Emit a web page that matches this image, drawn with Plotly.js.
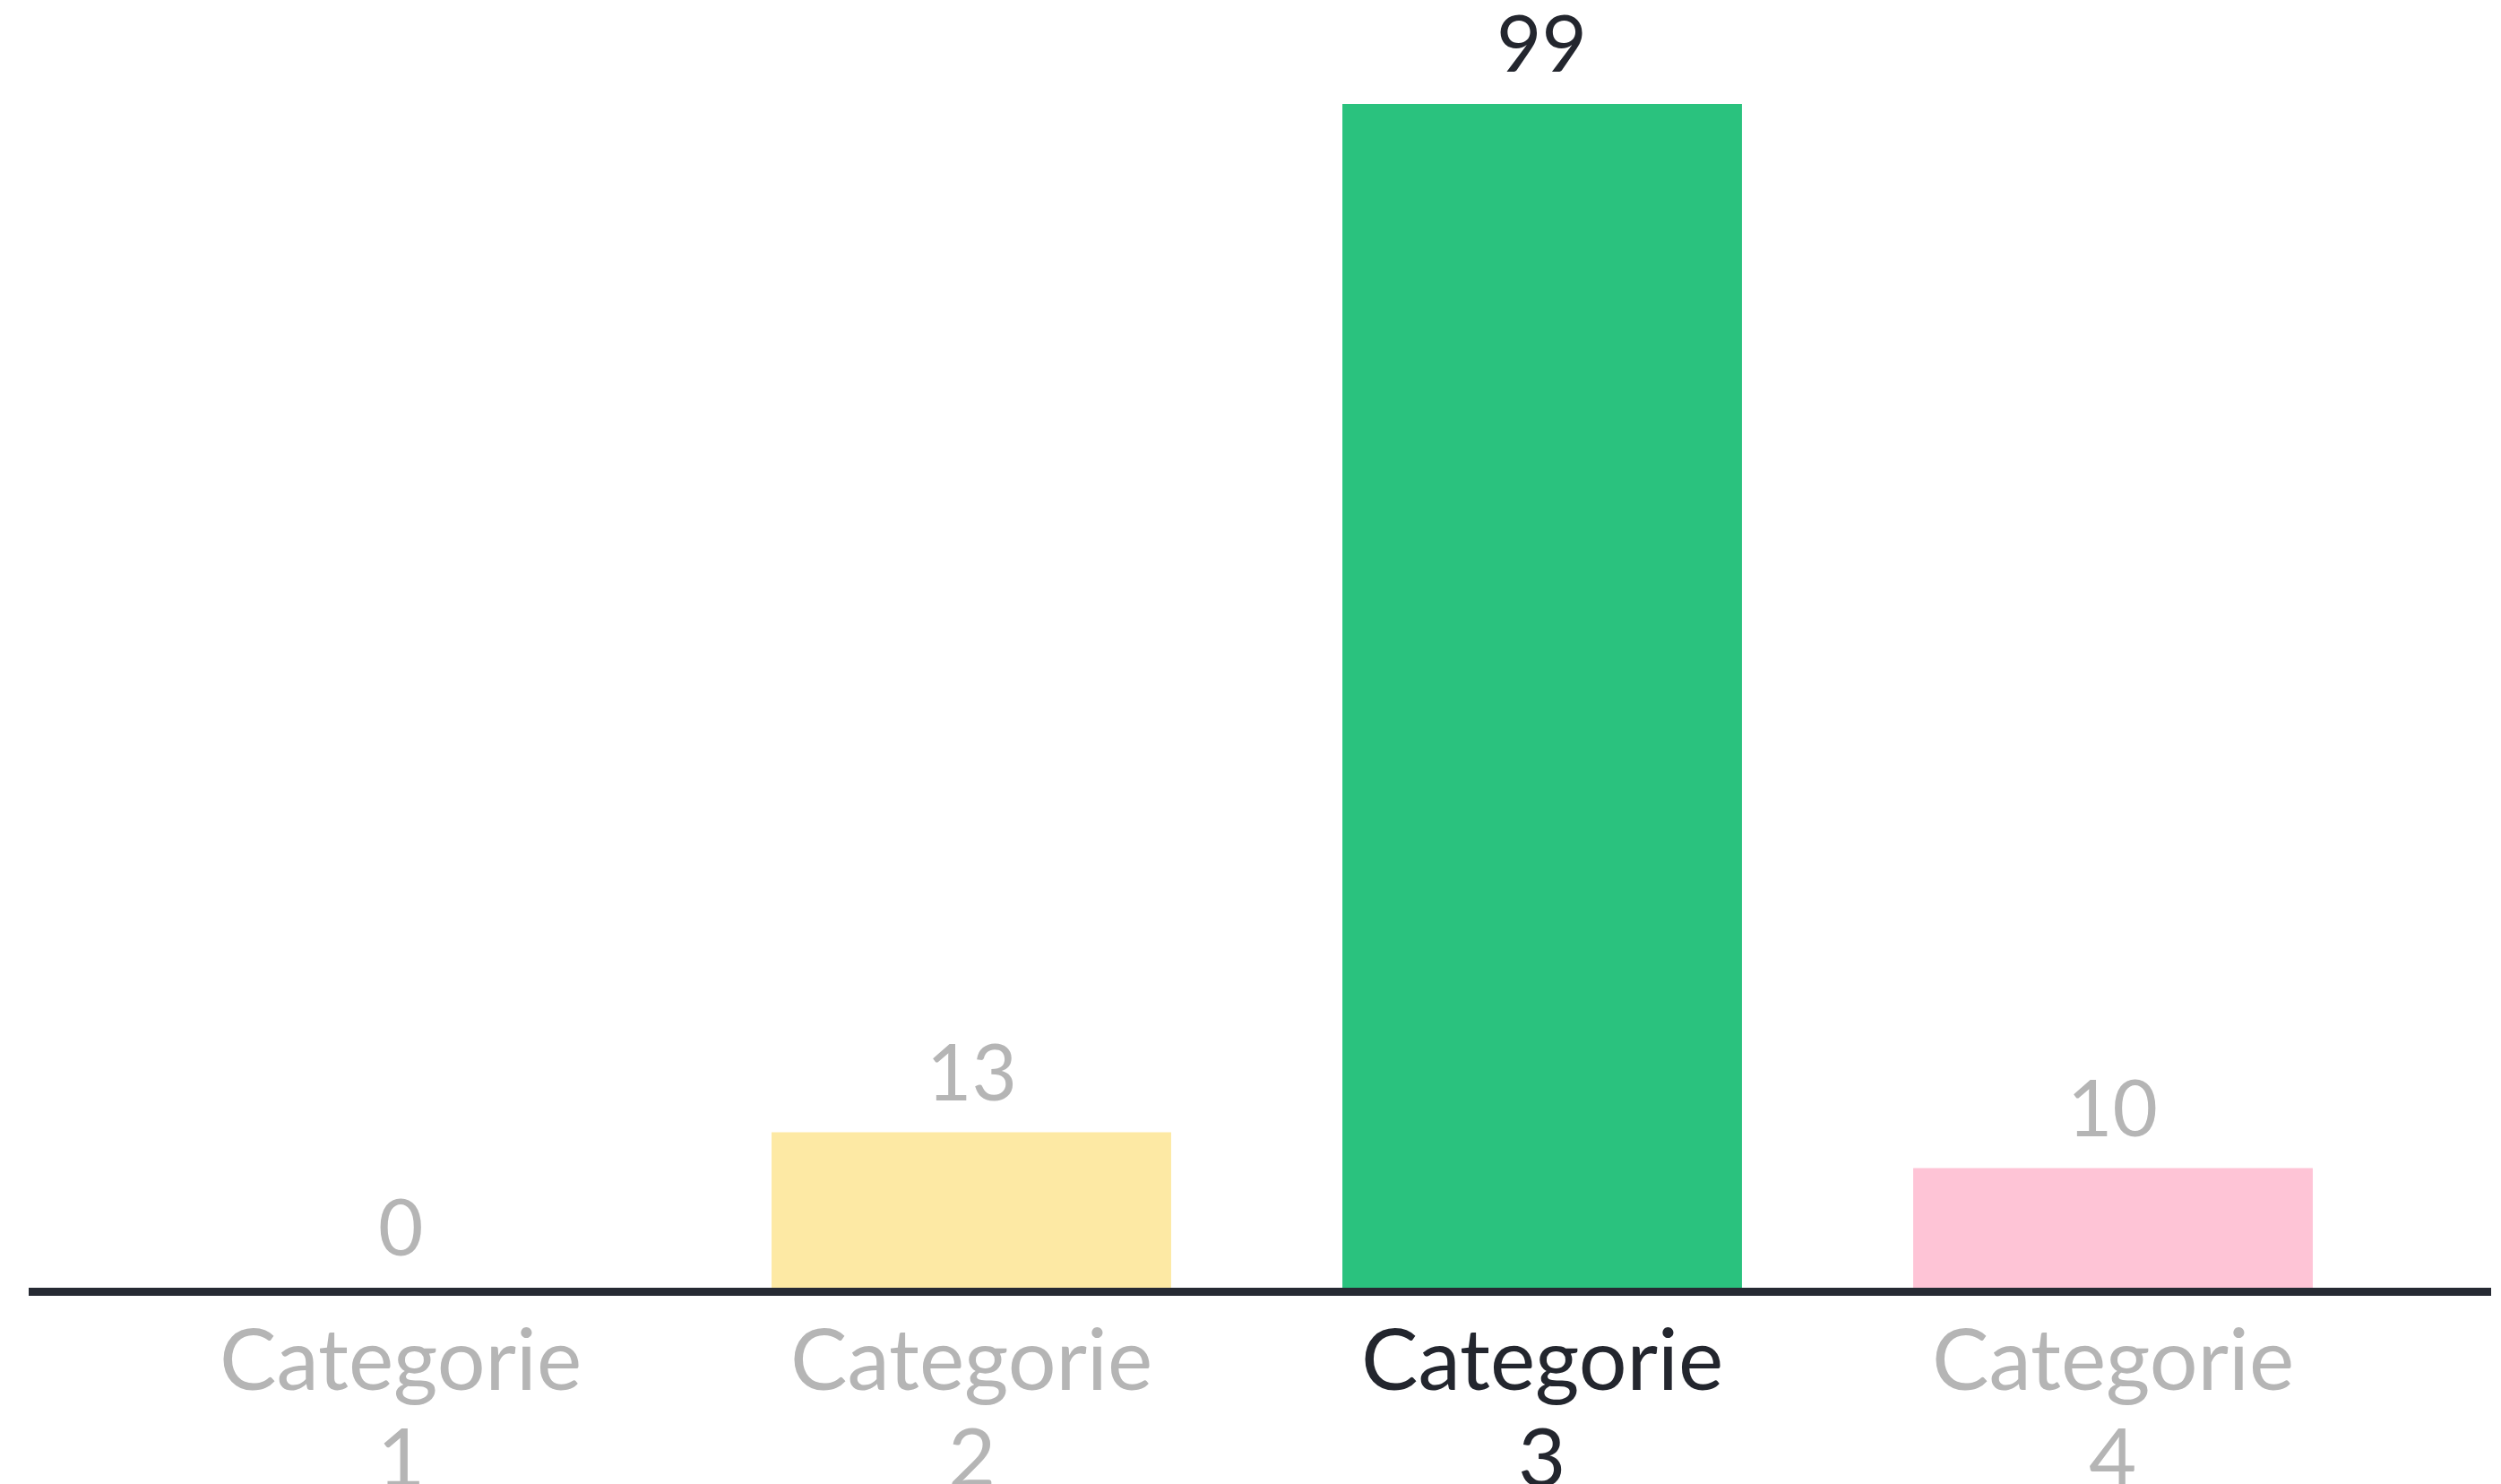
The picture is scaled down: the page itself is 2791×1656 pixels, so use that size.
<!DOCTYPE html>
<html>
<head>
<meta charset="utf-8">
<script src="https://cdn.plot.ly/plotly-3.0.1.min.js"></script>
<style>
  html, body { margin: 0; padding: 0; background: #ffffff; }
  #chart { width: 2791px; height: 1656px; }
</style>
</head>
<body>
<div id="chart"></div>
<script>
const categories = ["Categorie 1", "Categorie 2", "Categorie 3", "Categorie 4"];
const tickLine1 = ["Categorie", "Categorie", "Categorie", "Categorie"];
const tickLine2 = ["1", "2", "3", "4"];
const values = [0, 13, 99, 10];
const barColors = ["#d9d9d9", "#fde9a4", "#2ac27e", "#fec4d6"];
const highlightIndex = 2;

const GRAY = "#b5b5b5";
const DARK = "#23262e";
const FONT = "Lato, 'Open Sans', sans-serif";

function colorFor(i) { return i === highlightIndex ? DARK : GRAY; }

const valueAnnotations = values.map((v, i) => ({
  x: categories[i], y: v, xref: "x", yref: "y",
  text: String(v), showarrow: false, yanchor: "bottom", yshift: 15,
  font: { family: FONT, size: 87, color: colorFor(i) }
}));

const line1Annotations = tickLine1.map((t, i) => ({
  x: categories[i], y: 0, xref: "x", yref: "y",
  text: t, showarrow: false, yanchor: "top", yshift: -18,
  font: { family: FONT, size: 95, color: colorFor(i) }
}));

const line2Annotations = tickLine2.map((t, i) => ({
  x: categories[i], y: 0, xref: "x", yref: "y",
  text: t, showarrow: false, yanchor: "top", yshift: -129,
  font: { family: FONT, size: 92, color: colorFor(i) }
}));

const trace = {
  type: "bar",
  x: categories,
  y: values,
  marker: { color: barColors },
  hoverinfo: "x+y"
};

const layout = {
  width: 2791,
  height: 1656,
  paper_bgcolor: "#ffffff",
  plot_bgcolor: "#ffffff",
  margin: { l: 32, r: 11, t: 0, b: 219, pad: 0 },
  bargap: 0.30,
  showlegend: false,
  font: { family: FONT },
  xaxis: {
    type: "category",
    range: [-0.6515, 3.6625],
    showline: true,
    linecolor: "#262a33",
    linewidth: 9,
    showgrid: false,
    zeroline: false,
    ticks: "",
    showticklabels: false
  },
  yaxis: {
    visible: false,
    range: [0, 107.7],
    showgrid: false,
    zeroline: false
  },
  annotations: valueAnnotations.concat(line1Annotations, line2Annotations)
};

Plotly.newPlot("chart", [trace], layout, { displayModeBar: false, staticPlot: true });
</script>
</body>
</html>
